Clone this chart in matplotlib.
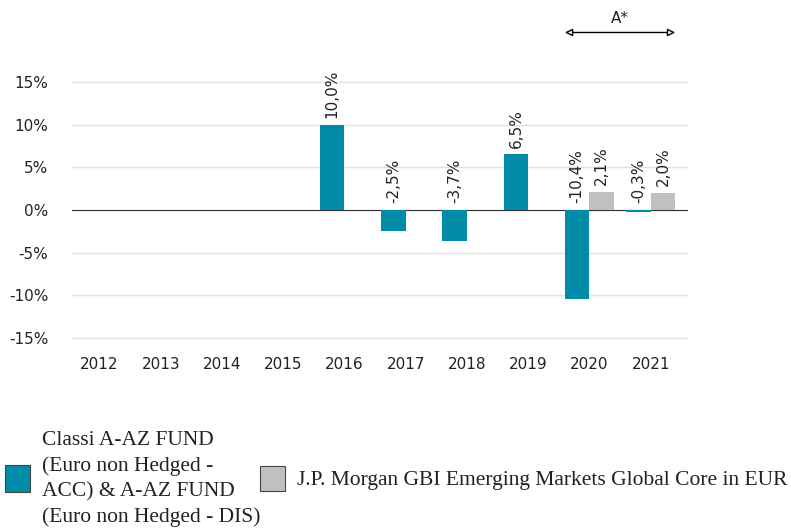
import numpy as np
import matplotlib.pyplot as plt
from matplotlib.patches import Rectangle

# data
years = ["2012", "2013", "2014", "2015", "2016", "2017", "2018", "2019", "2020", "2021"]
fund = [np.nan, np.nan, np.nan, np.nan, 10.0, -2.5, -3.7, 6.5, -10.4, -0.3]
bench = [np.nan] * 8 + [2.1, 2.0]
fund_name = "Classi A-AZ FUND\n(Euro non Hedged -\nACC) & A-AZ FUND\n(Euro non Hedged - DIS)"
bench_name = "J.P. Morgan GBI Emerging Markets Global Core in EUR"

teal = "#008BA6"
grey = "#C0C0C0"

fig = plt.figure(figsize=(7.91, 5.32), dpi=100)
ax = fig.add_axes([72 / 791, 0.349, 616 / 791, 0.513])

x = np.arange(len(years))
w = 0.4
ax.bar(x - w / 2, fund, w, color=teal, zorder=3)
ax.bar(x + w / 2, bench, w, color=grey, zorder=3)

def fmt(v):
    return f"{v:.1f}%".replace(".", ",")

for xs, vals in ((x - w / 2, fund), (x + w / 2, bench)):
    for xi, v in zip(xs, vals):
        if np.isnan(v):
            continue
        ax.text(xi, max(v, 0) + 0.8, fmt(v), rotation=90, ha="center", va="bottom",
                fontsize=11, color="#222222")

ax.set_xlim(-0.45, 9.61)
ax.set_ylim(-16, 16)
ax.set_yticks([-15, -10, -5, 0, 5, 10, 15])
ax.set_yticklabels([f"{t}%" for t in [-15, -10, -5, 0, 5, 10, 15]])
ax.set_xticks(x)
ax.set_xticklabels(years)
ax.tick_params(length=0, labelsize=11, colors="#222222")
ax.tick_params(axis="y", pad=17)
ax.tick_params(axis="x", pad=8)
for s in ax.spines.values():
    s.set_visible(False)
ax.grid(axis="y", color="#E0E0E0", linewidth=1, zorder=0)
ax.axhline(0, color="#333333", linewidth=0.8, zorder=2.5)

# A* arrow over the last two years
ax.annotate("", xy=(9 + w, 20.8), xytext=(8 - w, 20.8), xycoords="data",
            arrowprops=dict(arrowstyle="<|-|>", color="black", lw=1, fc="white",
                            mutation_scale=11, shrinkA=0, shrinkB=0),
            annotation_clip=False)
ax.text(8.5, 21.6, "A*", ha="center", va="bottom", fontsize=11, color="#222222")

# legend
fig.patches.append(Rectangle((5 / 791, 1 - 492 / 532), 25 / 791, 27 / 532,
                             transform=fig.transFigure, facecolor=teal,
                             edgecolor="#444444", linewidth=0.8))
fig.text(42 / 791, 1 - 479 / 532, fund_name, ha="left", va="center",
         family="Liberation Serif", fontsize=15.5, linespacing=1.42, color="#222222")
fig.patches.append(Rectangle((260 / 791, 1 - 491 / 532), 25 / 791, 25 / 532,
                             transform=fig.transFigure, facecolor=grey,
                             edgecolor="#444444", linewidth=0.8))
fig.text(297 / 791, 1 - 481 / 532, bench_name, ha="left", va="center",
         family="Liberation Serif", fontsize=15.5, color="#222222")

fig.savefig("out.png", dpi=100)
